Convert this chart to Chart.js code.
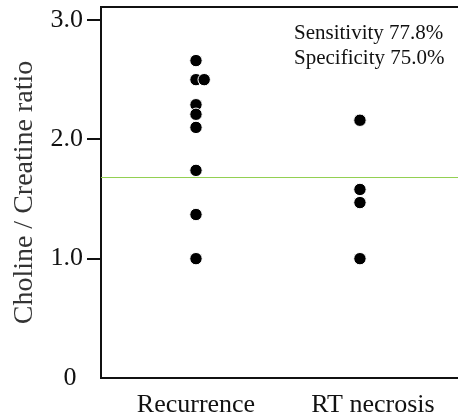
<!DOCTYPE html>
<html>
<head>
<meta charset="utf-8">
<script src="https://cdn.jsdelivr.net/npm/chart.js@4.4.1/dist/chart.umd.min.js"></script>
<style>
  html, body { margin: 0; padding: 0; background: #fff; }
  #wrap { width: 458px; height: 420px; }
</style>
</head>
<body>
<div id="wrap"><canvas id="c" width="458" height="420"></canvas></div>
<script>
// ---- data ----
const categories = ["Recurrence", "RT necrosis"];
const recurrenceValues = [2.66, 2.50, 2.50, 2.29, 2.21, 2.10, 1.74, 1.37, 1.00];
const recurrenceJitter = [0, 0, 0.05, 0, 0, 0, 0, 0, 0];
const necrosisValues = [2.16, 1.58, 1.47, 1.00];
const necrosisJitter = [0, 0, 0, 0];
const threshold = 1.68;
const yTicks = [0, 1, 2, 3];
const yTickLabels = ["0 ", "1.0", "2.0", "3.0"];
const annotationLines = ["Sensitivity 77.8%", "Specificity 75.0%"];
const yTitle = "Choline / Creatine ratio";

// ---- layout ----
const X_MIN = 0.4207, X_MAX = 2.598;
const Y_MIN = 0, Y_MAX = 3.109;
const FONT = "'Liberation Serif', 'Times New Roman', serif";

const points = [];
recurrenceValues.forEach((v, i) => points.push({ x: 1 + recurrenceJitter[i], y: v }));
necrosisValues.forEach((v, i) => points.push({ x: 2 + necrosisJitter[i], y: v }));

const frame = {
  id: 'frame',
  afterDraw(chart) {
    const { ctx, chartArea } = chart;
    ctx.save();
    ctx.strokeStyle = '#111';
    ctx.lineWidth = 2;
    ctx.beginPath();
    ctx.moveTo(chartArea.left - 1, chartArea.top);
    ctx.lineTo(chartArea.right, chartArea.top);
    ctx.stroke();
    ctx.fillStyle = '#111';
    ctx.font = '21px ' + FONT;
    ctx.textAlign = 'left';
    ctx.textBaseline = 'middle';
    annotationLines.forEach((t, i) => ctx.fillText(t, 294, 33 + i * 25));
    ctx.restore();
  }
};

new Chart(document.getElementById('c'), {
  data: {
    datasets: [
      {
        type: 'line',
        data: [{ x: X_MIN, y: threshold }, { x: X_MAX, y: threshold }],
        borderColor: '#92d050',
        borderWidth: 1,
        pointRadius: 0,
        order: 2
      },
      {
        type: 'scatter',
        data: points,
        backgroundColor: '#000',
        borderColor: '#fff',
        borderWidth: 1,
        pointRadius: 6.2,
        pointHoverRadius: 6.2,
        order: 1
      }
    ]
  },
  options: {
    responsive: false,
    devicePixelRatio: 1,
    animation: false,
    events: [],
    layout: { autoPadding: false, padding: { top: 7, left: 0, right: 0, bottom: 0 } },
    plugins: { legend: { display: false }, tooltip: { enabled: false } },
    scales: {
      x: {
        type: 'linear',
        min: X_MIN,
        max: X_MAX,
        afterFit(s) { s.height = 42; s.paddingLeft = 0; s.paddingRight = 0; },
        afterBuildTicks(s) { s.ticks = categories.map((c, i) => ({ value: i + 1 })); },
        ticks: {
          padding: 12,
          color: '#111',
          font: { family: FONT, size: 26 },
          maxRotation: 0,
          autoSkip: false,
          callback: (v) => {
            const i = Math.round(v) - 1;
            return i === 1 ? '    ' + categories[i] : categories[i];
          }
        },
        grid: { display: false, drawTicks: false },
        border: { display: true, color: '#111', width: 2 }
      },
      y: {
        type: 'linear',
        min: Y_MIN,
        max: Y_MAX,
        afterFit(s) { s.width = 101; s.paddingTop = 0; s.paddingBottom = 0; },
        afterBuildTicks(s) { s.ticks = yTicks.map(v => ({ value: v })); },
        ticks: {
          padding: 4,
          color: '#111',
          font: { family: FONT, size: 26 },
          callback: (v) => yTickLabels[yTicks.indexOf(v)]
        },
        grid: {
          drawOnChartArea: false,
          drawTicks: true,
          tickLength: 14,
          lineWidth: 2,
          color: (ctx) => (ctx.tick && ctx.tick.value === 0 ? 'rgba(0,0,0,0)' : '#111')
        },
        border: { display: true, color: '#111', width: 2 },
        title: {
          display: true,
          text: yTitle,
          color: '#333',
          font: { family: FONT, size: 28 },
          padding: { top: 8, bottom: 0 }
        }
      }
    }
  },
  plugins: [frame]
});
</script>
</body>
</html>
